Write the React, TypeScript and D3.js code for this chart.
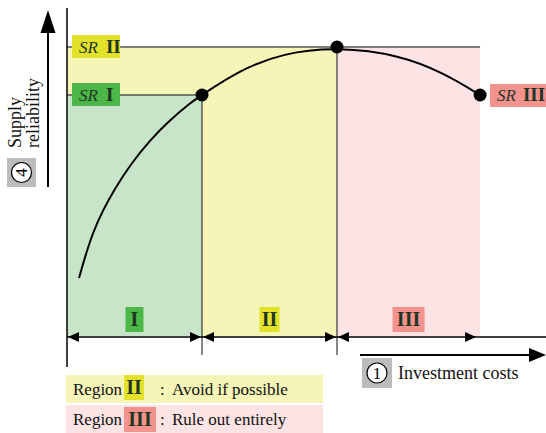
import React from "react"
import * as d3 from "d3"

// investment cost (x) and supply reliability (y), schematic units
const regionNames = ["I", "II", "III"]
const regionEdges = [0, 1, 2, 3.06]
const srNames = ["I", "II", "III"]
const srValues = [83.4, 100, 83.4]
const curveCost = [0.089, 0.133, 0.193, 0.267, 0.348, 0.467, 0.615, 0.763, 0.911, 1.0, 1.28, 1.6, 2.0, 2.47, 2.79, 3.06]
const curveReliability = [20.1, 27.3, 36.0, 43.6, 50.5, 59.2, 67.8, 74.7, 80.6, 83.4, 92.0, 97.9, 100, 97.2, 91.0, 83.4]
const markedCost = [1, 2, 3.06]
const legendRegions = ["II", "III"]
const legendTexts = ["Avoid if possible", "Rule out entirely"]

const W = 546
const H = 433
const FONT = '"Liberation Serif", "Times New Roman", Times, serif'
const INK = "#1f3522"
const TXT = { fontFamily: FONT }

const fills = ["#c8e4c9", "#f5f5b7", "#fde4e4"]
const badges = ["#4cb748", "#e3e22b", "#f4928e"]
const GREY = "#bcbcbc"

function head(tx: number, ty: number, dir: "l" | "r" | "u", len = 11, half = 5) {
  let pts: number[][]
  if (dir === "r") pts = [[tx, ty], [tx - len, ty - half], [tx - len, ty + half]]
  else if (dir === "l") pts = [[tx, ty], [tx + len, ty - half], [tx + len, ty + half]]
  else pts = [[tx, ty], [tx - half, ty + len], [tx + half, ty + len]]
  return <polygon points={pts.map(p => p.join(",")).join(" ")} fill="#000" />
}

function Badge({ x, y, w, h, color, label, size = 20 }: any) {
  return (
    <g>
      <rect x={x} y={y} width={w} height={h} fill={color} />
      <text x={x + w / 2} y={y + h / 2 + size * 0.34} textAnchor="middle" fontSize={size}
        fontWeight="bold" fill={INK} style={TXT}>{label}</text>
    </g>
  )
}

export default function App() {
  const x = d3.scaleLinear().domain([0, 1]).range([67, 202])
  const y = d3.scaleLinear().domain([0, 100]).range([336, 47])
  const line = d3.line<number>()
    .x((_, i) => x(curveCost[i]))
    .y(d => y(d))
    .curve(d3.curveBasis)

  const yTop = y(100)
  const yBase = y(0)
  const arrowY = yBase + 1
  const xEnd = x(regionEdges[3])
  const srY = srValues.map(v => y(v))

  return (
    <div style={{ position: "absolute", left: 0, top: 0 }}>
      <svg width={W} height={H} style={{ display: "block", fontFamily: FONT }}>
        {/* regions */}
        <rect x={x(0)} y={yTop} width={x(2) - x(0)} height={yBase - yTop} fill={fills[1]} />
        <rect x={x(0)} y={srY[0]} width={x(1) - x(0)} height={yBase - srY[0]} fill={fills[0]} />
        <rect x={x(2)} y={yTop} width={xEnd - x(2)} height={yBase - yTop} fill={fills[2]} />

        {/* SR level lines */}
        <line x1={x(0)} x2={xEnd} y1={srY[1]} y2={srY[1]} stroke="#555" strokeWidth={1.5} />
        <line x1={x(0)} x2={x(1)} y1={srY[0]} y2={srY[0]} stroke="#555" strokeWidth={1.5} />
        <line x1={x(1)} x2={x(1)} y1={srY[0]} y2={355} stroke="#444" strokeWidth={1.3} />
        <line x1={x(2)} x2={x(2)} y1={srY[1]} y2={355} stroke="#444" strokeWidth={1.3} />

        {/* axis */}
        <line x1={x(0)} x2={x(0)} y1={8} y2={367} stroke="#000" strokeWidth={1.5} />

        {/* region arrows */}
        <line x1={x(0)} x2={W} y1={arrowY} y2={arrowY} stroke="#000" strokeWidth={1.5} />
        {regionNames.map((r, i) => {
          const a = x(regionEdges[i])
          const b = x(regionEdges[i + 1]) - (i === 2 ? 3 : 0)
          return (
            <g key={r}>
              {head(a + 1, arrowY, "l")}
              {head(b - 1, arrowY, "r")}
            </g>
          )
        })}
        {regionNames.map((r, i) => {
          const cx = (x(regionEdges[i]) + x(regionEdges[i + 1])) / 2
          const w = [18, 20, 32][i]
          return <Badge key={r} x={cx - w / 2} y={307} w={w} h={25} color={badges[i]} label={r} />
        })}

        {/* curve */}
        <path d={line(curveReliability) ?? ""} fill="none" stroke="#000" strokeWidth={2} />
        {markedCost.map((c, i) => (
          <circle key={i} cx={x(c)} cy={srY[i]} r={6.5} fill="#000" />
        ))}

        {/* SR labels */}
        {[0, 1].map(i => (
          <g key={i}>
            <rect x={72} y={srY[i] - 12} width={48} height={23} fill={badges[i]} />
            <text x={79} y={srY[i] + 6} fontSize={17} fill={INK} style={TXT}>
              <tspan fontStyle="italic">SR</tspan>
              <tspan dx={8} fontWeight="bold" fontSize={19}>{srNames[i]}</tspan>
            </text>
          </g>
        ))}
        <rect x={490} y={srY[2] - 11} width={56} height={23} fill={badges[2]} />
        <text x={497} y={srY[2] + 6} fontSize={17} fill={INK} style={TXT}>
          <tspan fontStyle="italic">SR</tspan>
          <tspan dx={7} fontWeight="bold" fontSize={19}>{srNames[2]}</tspan>
        </text>

        {/* y axis title */}
        <line x1={48} x2={48} y1={187} y2={30} stroke="#000" strokeWidth={2} />
        {head(48, 10, "u", 23, 7.5)}
        <text transform="translate(21,148) rotate(-90)" fontSize={18} fill="#111" style={TXT}>Supply</text>
        <text transform="translate(39,148) rotate(-90)" fontSize={18} fill="#111" style={TXT}>reliability</text>
        <rect x={7} y={158} width={29} height={29} fill={GREY} />
        <circle cx={21.5} cy={172.5} r={10} fill="#fff" stroke="#000" strokeWidth={1.2} />
        <text transform="translate(27,172.5) rotate(-90)" textAnchor="middle" fontSize={17} fill="#000" style={TXT}>4</text>

        {/* x axis title */}
        <line x1={360} x2={532} y1={355} y2={355} stroke="#000" strokeWidth={2} />
        {head(546, 355, "r", 17, 7)}
        <rect x={362} y={358} width={30} height={30} fill={GREY} />
        <circle cx={377} cy={373} r={10} fill="#fff" stroke="#000" strokeWidth={1.2} />
        <text x={377} y={379} textAnchor="middle" fontSize={17} fill="#000" style={TXT}>1</text>
        <text x={398} y={379} fontSize={18} fill="#111" style={TXT}>Investment costs</text>

        {/* legend */}
        {legendRegions.map((r, i) => {
          const top = 375 + i * 30
          const idx = regionNames.indexOf(r)
          return (
            <g key={r}>
              <rect x={66} y={top} width={257} height={28} fill={fills[idx]} />
              <text x={73} y={top + 20} fontSize={17} fill="#111" style={TXT}>Region</text>
              <Badge x={124} y={top + (i ? 2 : 0)} w={i ? 32 : 20} h={25} color={badges[idx]} label={r} />
              <text x={160} y={top + 20} fontSize={17} fill="#111" style={TXT}>:</text>
              <text x={172} y={top + 20} fontSize={17} fill="#111" style={TXT}>{legendTexts[i]}</text>
            </g>
          )
        })}
      </svg>
    </div>
  )
}
